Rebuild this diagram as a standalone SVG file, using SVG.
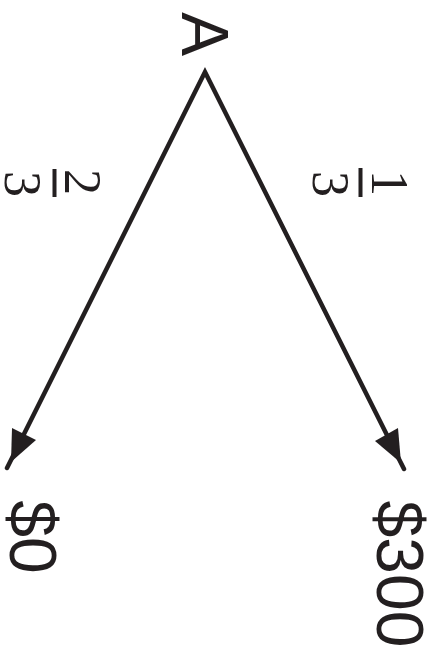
<svg xmlns="http://www.w3.org/2000/svg" width="433" height="650" viewBox="0 0 433 650">
  <style>
    .node { font-family: "Liberation Sans", Arial, sans-serif; font-size: 66px; fill: #231f20; }
    .frac { font-family: "Liberation Serif", "Times New Roman", serif; font-size: 52px; fill: #231f20; }
    .edge { fill: none; stroke: #231f20; stroke-width: 4.5; stroke-linecap: round; stroke-linejoin: miter; }
    .head { fill: #231f20; }
    .bar { fill: #231f20; }
  </style>
  <rect width="433" height="650" fill="#ffffff"/>
  <g id="connectors">
    <path class="edge" d="M7,468 L205,72 L404,469"/>
    <polygon class="head" points="11,462 12,428 36,440"/>
    <polygon class="head" points="401,463 375,441 398,428"/>
    <g id="label-left">
      <text class="frac" text-anchor="middle" transform="translate(65,182) rotate(90)">2</text>
      <rect class="bar" x="52.5" y="169" width="4" height="28"/>
      <text class="frac" text-anchor="middle" transform="translate(5,184) rotate(90)">3</text>
    </g>
    <g id="label-right">
      <text class="frac" text-anchor="middle" transform="translate(372,183) rotate(90)">1</text>
      <rect class="bar" x="358.5" y="168" width="4" height="29"/>
      <text class="frac" text-anchor="middle" transform="translate(313,184) rotate(90)">3</text>
    </g>
  </g>
  <g id="node-A">
    <text class="node" text-anchor="middle" transform="translate(182,34) rotate(90)">A</text>
  </g>
  <g id="node-0">
    <text class="node" text-anchor="middle" transform="translate(10,537) rotate(90)">$0</text>
  </g>
  <g id="node-300">
    <text class="node" text-anchor="middle" transform="translate(377,574) rotate(90)">$300</text>
  </g>
</svg>
